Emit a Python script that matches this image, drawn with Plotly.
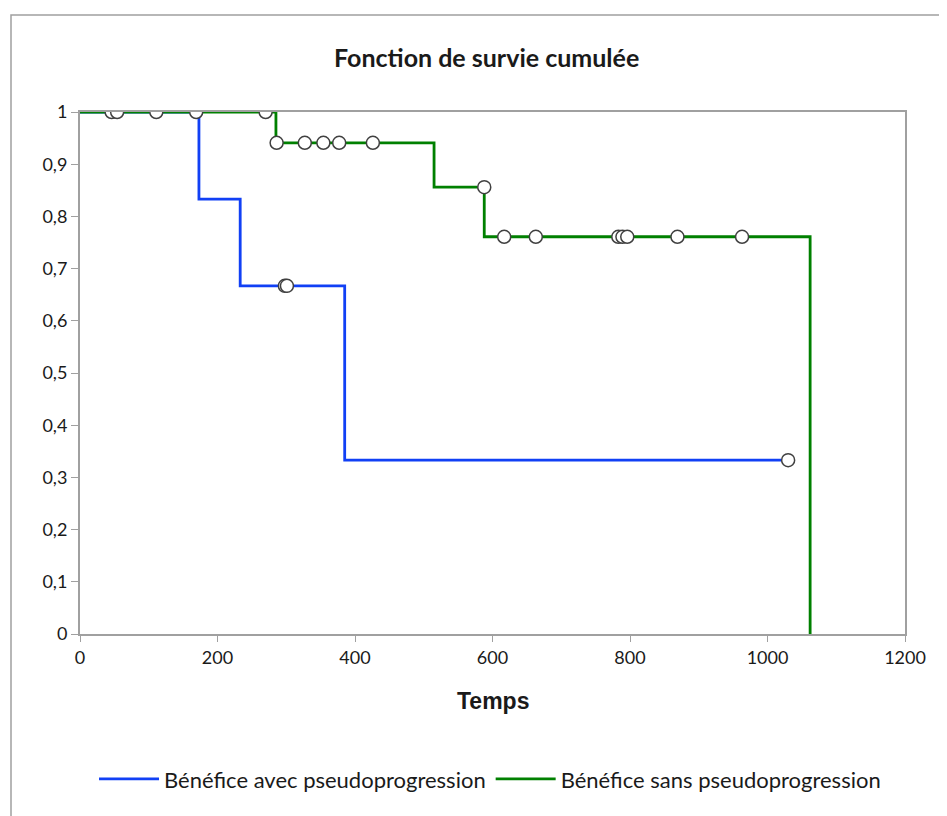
import plotly.graph_objects as go

# Kaplan-Meier step data
blue_name = "Bénéfice avec pseudoprogression"
blue_t = [0, 173, 233, 385, 1030]
blue_s = [1, 0.833, 0.667, 0.333, 0.333]
blue_cens_t = [298, 301, 1030]
blue_cens_s = [0.667, 0.667, 0.333]

green_name = "Bénéfice sans pseudoprogression"
green_t = [0, 285, 515, 588, 1062]
green_s = [1, 0.941, 0.856, 0.761, 0]
green_cens_t = [46, 54, 111, 169, 270, 286, 327, 354, 377, 426, 588, 617, 663, 783, 789, 796, 869, 963]
green_cens_s = [1, 1, 1, 1, 1, 0.941, 0.941, 0.941, 0.941, 0.941, 0.856,
                0.761, 0.761, 0.761, 0.761, 0.761, 0.761, 0.761]

x_ticks = [0, 200, 400, 600, 800, 1000, 1200]
y_ticks = [0, 0.1, 0.2, 0.3, 0.4, 0.5, 0.6, 0.7, 0.8, 0.9, 1]
y_ticktext = ["0", "0,1", "0,2", "0,3", "0,4", "0,5", "0,6", "0,7", "0,8", "0,9", "1"]

title_text = "Fonction de survie cumulée"
x_title = "Temps"

BLUE = "#1140F5"
GREEN = "#008000"
GRAY = "#A0A0A0"
TXT = "#1a1a1a"
FONT = "Lato"

fig = go.Figure()
fig.add_trace(go.Scatter(x=blue_t, y=blue_s, mode="lines", line=dict(shape="hv", color=BLUE, width=2.8),
                         name=blue_name))
fig.add_trace(go.Scatter(x=green_t, y=green_s, mode="lines", line=dict(shape="hv", color=GREEN, width=2.8),
                         name=green_name))
marker_style = dict(symbol="circle", size=13, color="white", line=dict(color="#404040", width=1.5))
fig.add_trace(go.Scatter(x=green_cens_t, y=green_cens_s, mode="markers", marker=marker_style, showlegend=False))
fig.add_trace(go.Scatter(x=blue_cens_t, y=blue_cens_s, mode="markers", marker=marker_style, showlegend=False))

fig.update_layout(
    width=947, height=816,
    margin=dict(l=72, r=50, t=104, b=190),
    paper_bgcolor="white", plot_bgcolor="white",
    font=dict(family=FONT, size=18, color=TXT),
    showlegend=True,
    legend=dict(orientation="h", x=0.497, xanchor="center", y=-0.278, yanchor="middle",
                font=dict(family=FONT, size=22, color=TXT), itemwidth=60, tracegroupgap=0),
    xaxis=dict(range=[0, 1200], tickvals=x_ticks, showgrid=False, zeroline=False,
               showline=True, linecolor=GRAY, linewidth=2, mirror=True,
               ticks="outside", ticklen=6, tickcolor=GRAY, tickwidth=1,
               tickfont=dict(family=FONT, size=18, color=TXT)),
    yaxis=dict(range=[0, 1], tickvals=y_ticks, ticktext=y_ticktext, showgrid=False, zeroline=False,
               showline=True, linecolor=GRAY, linewidth=2, mirror=True,
               ticks="outside", ticklen=7, tickcolor=GRAY, tickwidth=1,
               tickfont=dict(family=FONT, size=18, color=TXT)),
    annotations=[
        dict(text="<b>" + title_text + "</b>", xref="paper", yref="paper", x=(486 - 80) / 825,
             y=(634 - 57) / 522, showarrow=False, font=dict(family=FONT, size=25, color=TXT),
             xanchor="center", yanchor="middle"),
        dict(text="<b>" + x_title + "</b>", xref="paper", yref="paper", x=(493 - 80) / 825, y=(634 - 701) / 522,
             showarrow=False, font=dict(family="Liberation Sans", size=23, color=TXT), xanchor="center",
             yanchor="middle"),
    ],
    shapes=[dict(type="rect", xref="paper", yref="paper", x0=(11 - 80) / 825, x1=(960 - 80) / 825,
                 y0=(634 - 830) / 522, y1=(634 - 15) / 522, line=dict(color=GRAY, width=1.5), layer="below")],
)
fig.write_html("out.html")
